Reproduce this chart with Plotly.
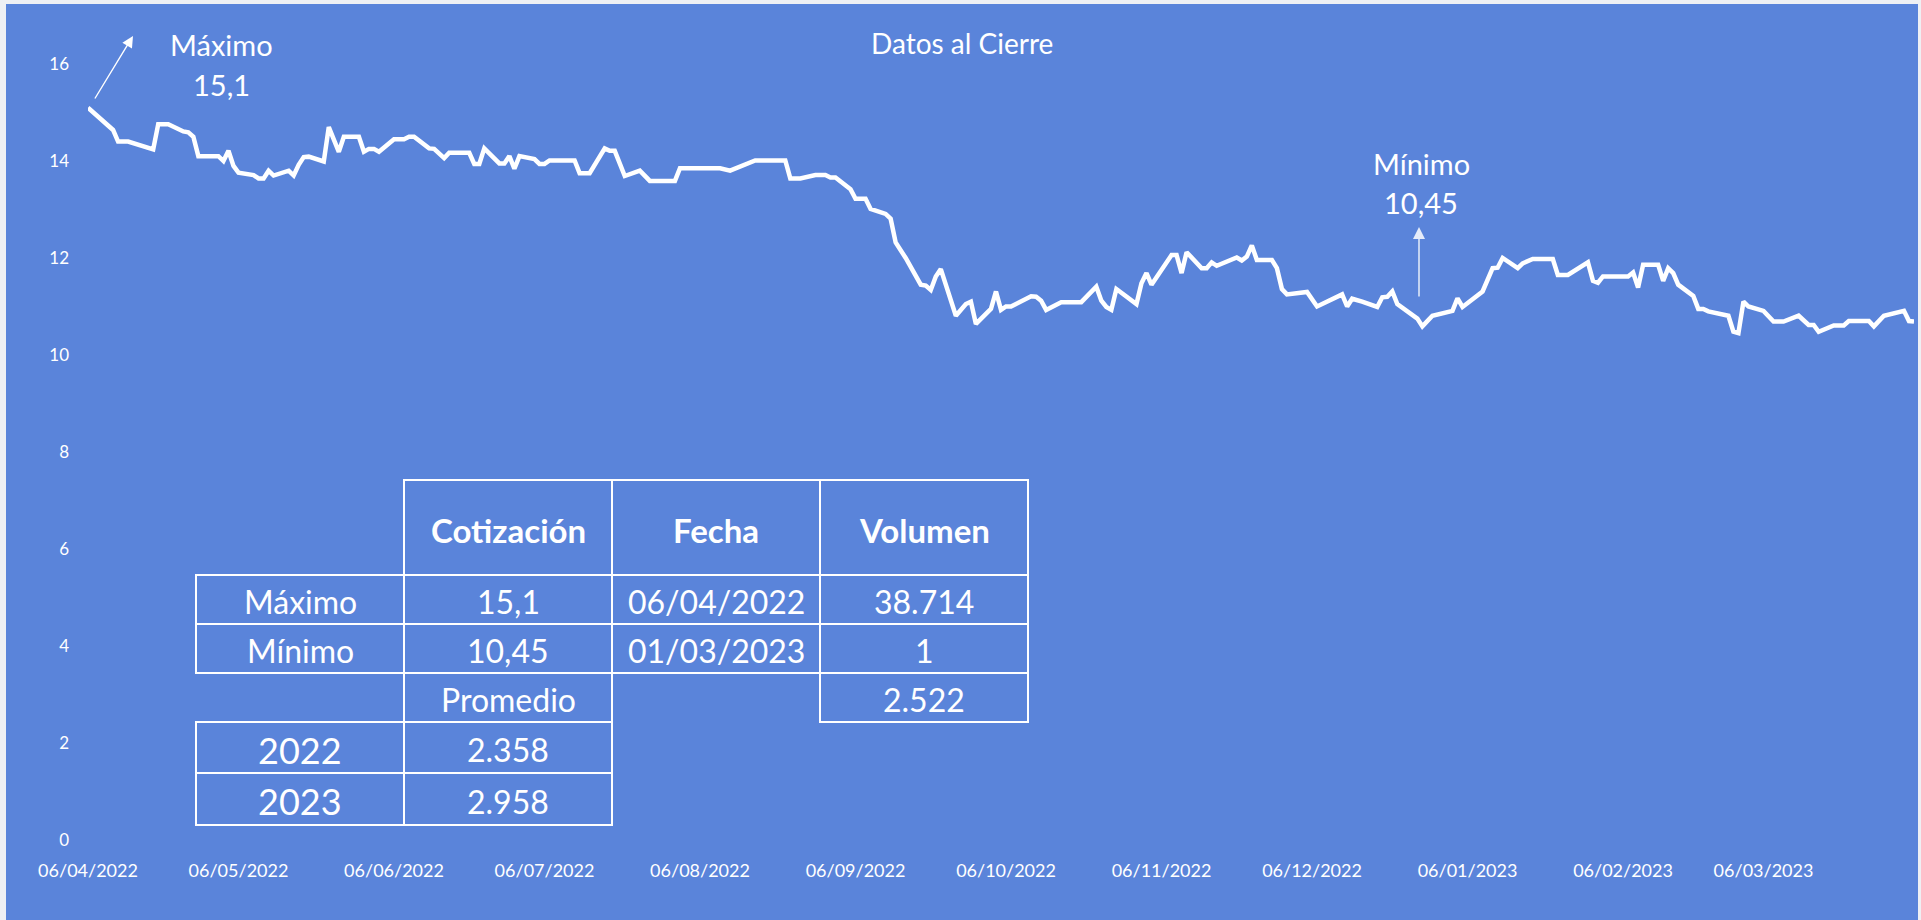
import plotly.graph_objects as go

# ---------------- data ----------------
dates = [
    "2022-04-06", "2022-04-11", "2022-04-12", "2022-04-14", "2022-04-19", "2022-04-20", "2022-04-22",
    "2022-04-25", "2022-04-26", "2022-04-27", "2022-04-28", "2022-05-02", "2022-05-03", "2022-05-04",
    "2022-05-05", "2022-05-06", "2022-05-09", "2022-05-10", "2022-05-11", "2022-05-12", "2022-05-13",
    "2022-05-16", "2022-05-17", "2022-05-18", "2022-05-19", "2022-05-20", "2022-05-23", "2022-05-24",
    "2022-05-26", "2022-05-27", "2022-05-30", "2022-05-31", "2022-06-01", "2022-06-02", "2022-06-03",
    "2022-06-06", "2022-06-08", "2022-06-09", "2022-06-10", "2022-06-13", "2022-06-14", "2022-06-16",
    "2022-06-17", "2022-06-21", "2022-06-22", "2022-06-23", "2022-06-24", "2022-06-27", "2022-06-28",
    "2022-06-29", "2022-06-30", "2022-07-01", "2022-07-04", "2022-07-05", "2022-07-06", "2022-07-07",
    "2022-07-12", "2022-07-13", "2022-07-15", "2022-07-18", "2022-07-19", "2022-07-20", "2022-07-22",
    "2022-07-25", "2022-07-27", "2022-08-01", "2022-08-02", "2022-08-10", "2022-08-12", "2022-08-17",
    "2022-08-23", "2022-08-24", "2022-08-26", "2022-08-29", "2022-08-31", "2022-09-01", "2022-09-02",
    "2022-09-05", "2022-09-06", "2022-09-08", "2022-09-09", "2022-09-12", "2022-09-13", "2022-09-14",
    "2022-09-16", "2022-09-19", "2022-09-20", "2022-09-21", "2022-09-22", "2022-09-23", "2022-09-26",
    "2022-09-28", "2022-09-29", "2022-09-30", "2022-10-03", "2022-10-04", "2022-10-05", "2022-10-06",
    "2022-10-07", "2022-10-11", "2022-10-12", "2022-10-13", "2022-10-14", "2022-10-17", "2022-10-21",
    "2022-10-24", "2022-10-25", "2022-10-26", "2022-10-27", "2022-10-28", "2022-11-01", "2022-11-02",
    "2022-11-03", "2022-11-04", "2022-11-08", "2022-11-09", "2022-11-10", "2022-11-11", "2022-11-14",
    "2022-11-15", "2022-11-16", "2022-11-17", "2022-11-21", "2022-11-22", "2022-11-23", "2022-11-24",
    "2022-11-25", "2022-11-28", "2022-11-29", "2022-11-30", "2022-12-01", "2022-12-05", "2022-12-07",
    "2022-12-08", "2022-12-12", "2022-12-13", "2022-12-14", "2022-12-16", "2022-12-19", "2022-12-20",
    "2022-12-21", "2022-12-22", "2022-12-23", "2022-12-27", "2022-12-28", "2022-12-30", "2023-01-02",
    "2023-01-03", "2023-01-04", "2023-01-05", "2023-01-09", "2023-01-11", "2023-01-12", "2023-01-13",
    "2023-01-16", "2023-01-17", "2023-01-19", "2023-01-23", "2023-01-24", "2023-01-26", "2023-01-30",
    "2023-01-31", "2023-02-01", "2023-02-02", "2023-02-07", "2023-02-08", "2023-02-09", "2023-02-10",
    "2023-02-13", "2023-02-14", "2023-02-15", "2023-02-16", "2023-02-17", "2023-02-20", "2023-02-21",
    "2023-02-22", "2023-02-23", "2023-02-27", "2023-02-28", "2023-03-01", "2023-03-02", "2023-03-03",
    "2023-03-06", "2023-03-08", "2023-03-10", "2023-03-13", "2023-03-15", "2023-03-16", "2023-03-17",
    "2023-03-20", "2023-03-22", "2023-03-23", "2023-03-27", "2023-03-28", "2023-03-30", "2023-04-03",
    "2023-04-04", "2023-04-05",
]
closes = [
    15.10, 14.64, 14.40, 14.40, 14.24, 14.76, 14.76,
    14.61, 14.59, 14.50, 14.10, 14.10, 14.00, 14.21,
    13.90, 13.76, 13.71, 13.64, 13.64, 13.80, 13.70,
    13.80, 13.70, 13.92, 14.08, 14.09, 13.99, 14.70,
    14.19, 14.50, 14.50, 14.19, 14.25, 14.25, 14.19,
    14.45, 14.45, 14.50, 14.50, 14.26, 14.25, 14.06,
    14.17, 14.17, 13.94, 13.94, 14.26, 13.95, 13.95,
    14.10, 13.84, 14.10, 14.04, 13.94, 13.94, 14.01,
    14.01, 13.75, 13.75, 14.26, 14.21, 14.21, 13.69,
    13.80, 13.59, 13.59, 13.85, 13.85, 13.80, 14.01,
    14.01, 13.64, 13.64, 13.71, 13.71, 13.66, 13.66,
    13.42, 13.22, 13.22, 13.01, 12.91, 12.81, 12.32,
    12.00, 11.45, 11.43, 11.34, 11.62, 11.77, 10.81,
    11.05, 11.10, 10.64, 10.95, 11.31, 10.93, 11.00,
    11.00, 11.21, 11.20, 11.12, 10.93, 11.09, 11.09,
    11.41, 11.12, 10.99, 10.93, 11.36, 11.05, 11.48,
    11.69, 11.45, 12.06, 12.06, 11.69, 12.12, 11.79,
    11.79, 11.91, 11.84, 12.01, 11.95, 12.03, 12.26,
    11.96, 11.96, 11.79, 11.36, 11.25, 11.30, 11.00,
    11.05, 11.25, 11.00, 11.16, 11.10, 10.99, 11.19,
    11.20, 11.31, 11.05, 10.75, 10.59, 10.81, 10.90,
    10.91, 11.17, 10.99, 11.31, 11.79, 11.80, 12.00,
    11.79, 11.89, 11.98, 11.98, 11.65, 11.65, 11.91,
    11.53, 11.49, 11.62, 11.62, 11.70, 11.39, 11.86,
    11.86, 11.53, 11.79, 11.69, 11.45, 11.22, 10.95,
    10.95, 10.90, 10.81, 10.48, 10.45, 11.10, 11.00,
    10.91, 10.69, 10.69, 10.81, 10.62, 10.62, 10.48,
    10.61, 10.61, 10.70, 10.70, 10.59, 10.81, 10.91,
    10.70, 10.69,
]

x_tick_dates = [
    "2022-04-06", "2022-05-06", "2022-06-06", "2022-07-06", "2022-08-06", "2022-09-06",
    "2022-10-06", "2022-11-06", "2022-12-06", "2023-01-06", "2023-02-06", "2023-03-06",
]
x_range = ["2022-04-06", "2023-04-05"]
y_range = [0, 16]

title_text = "Datos al Cierre"
max_label = ["Máximo", "15,1"]
min_label = ["Mínimo", "10,45"]

table_header = ["", "Cotización", "Fecha", "Volumen"]
table_row_max = ["Máximo", "15,1", "06/04/2022", "38.714"]
table_row_min = ["Mínimo", "10,45", "01/03/2023", "1"]
table_row_prom = ["", "Promedio", "", "2.522"]
table_years = ["2022", "2023"]
table_year_vals = ["2.358", "2.958"]

# ---------------- layout constants ----------------
W, H = 1921, 920
PL, PR, PT, PB = 88, 1914, 64, 840
BLUE = "#5A84DA"
FONT = "Lato"


def px_x(px):
    return (px - PL) / (PR - PL)


def px_y(py):
    return (PB - py) / (PB - PT)


fig = go.Figure()
fig.add_trace(go.Scatter(
    x=dates, y=closes, mode="lines",
    line=dict(color="white", width=4.5),
    hoverinfo="x+y", showlegend=False,
))

shapes = []
annotations = []

# blue chart area with thin light border on the page edge
shapes.append(dict(type="rect", xref="paper", yref="paper", layer="below",
                   x0=px_x(6), x1=px_x(1918), y0=px_y(924), y1=px_y(4),
                   fillcolor=BLUE, line=dict(width=0)))

# title
annotations.append(dict(text=title_text, xref="paper", yref="paper",
                        x=px_x(962), y=px_y(43), showarrow=False,
                        xanchor="center", yanchor="middle",
                        font=dict(family=FONT, size=28, color="white")))

# Máximo label + arrow
annotations.append(dict(text=max_label[0], xref="paper", yref="paper", x=px_x(221), y=px_y(44),
                        showarrow=False, xanchor="center", yanchor="middle",
                        font=dict(family=FONT, size=29, color="white")))
annotations.append(dict(text=max_label[1], xref="paper", yref="paper", x=px_x(221), y=px_y(84),
                        showarrow=False, xanchor="center", yanchor="middle",
                        font=dict(family=FONT, size=29, color="white")))
annotations.append(dict(text="", xref="paper", yref="paper", x=px_x(133), y=px_y(36),
                        ax=-39, ay=64, showarrow=True, arrowhead=2, arrowsize=1.6,
                        arrowwidth=1.4, arrowcolor="white"))

# Mínimo label + arrow
annotations.append(dict(text=min_label[0], xref="paper", yref="paper", x=px_x(1421), y=px_y(163),
                        showarrow=False, xanchor="center", yanchor="middle",
                        font=dict(family=FONT, size=29, color="white")))
annotations.append(dict(text=min_label[1], xref="paper", yref="paper", x=px_x(1421), y=px_y(202),
                        showarrow=False, xanchor="center", yanchor="middle",
                        font=dict(family=FONT, size=29, color="white")))
annotations.append(dict(text="", xref="paper", yref="paper", x=px_x(1419), y=px_y(227),
                        ax=0, ay=71, showarrow=True, arrowhead=2, arrowsize=1.6,
                        arrowwidth=1.5, arrowcolor="rgba(255,255,255,0.85)"))

# ---------------- table ----------------
col_edges = [196, 404, 612, 820, 1028]
row_edges = [480, 575, 624, 673, 722, 773, 825]

table_rows = [
    (table_header, [1, 2, 3], 33, "bold"),
    (table_row_max, [0, 1, 2, 3], 32, "normal"),
    (table_row_min, [0, 1, 2, 3], 32, "normal"),
    (table_row_prom, [1, 3], 32, "normal"),
    ([table_years[0], table_year_vals[0], "", ""], [0, 1], 32, "normal"),
    ([table_years[1], table_year_vals[1], "", ""], [0, 1], 32, "normal"),
]

for r, (cells, bordered, fsize, weight) in enumerate(table_rows):
    y0, y1 = row_edges[r], row_edges[r + 1]
    for c in bordered:
        x0, x1 = col_edges[c], col_edges[c + 1]
        shapes.append(dict(type="rect", xref="paper", yref="paper",
                           x0=px_x(x0), x1=px_x(x1), y0=px_y(y1), y1=px_y(y0),
                           line=dict(color="white", width=2), fillcolor="rgba(0,0,0,0)"))
    for c, txt in enumerate(cells):
        if not txt:
            continue
        size = fsize
        if r >= 4 and c == 0:
            size = 36
        annotations.append(dict(text=txt, xref="paper", yref="paper",
                                x=px_x((col_edges[c] + col_edges[c + 1]) / 2),
                                y=px_y((y0 + y1) / 2 + 2),
                                showarrow=False, xanchor="center", yanchor="middle",
                                font=dict(family=FONT, size=size, color="white", weight=weight)))

fig.update_layout(
    width=W, height=H,
    margin=dict(l=PL, r=W - PR, t=PT, b=H - PB, pad=0),
    paper_bgcolor="#EEF0F4",
    plot_bgcolor="rgba(0,0,0,0)",
    shapes=shapes,
    annotations=annotations,
    showlegend=False,
    xaxis=dict(type="date", range=x_range, tickvals=x_tick_dates, tickformat="%d/%m/%Y",
               showgrid=False, zeroline=False, showline=False, ticks="",
               ticklabelstandoff=18,
               tickfont=dict(family=FONT, size=18, color="white")),
    yaxis=dict(range=y_range, dtick=2, showgrid=False, zeroline=False, showline=False,
               ticks="", ticklabelstandoff=18,
               tickfont=dict(family=FONT, size=17, color="white")),
)

fig.write_html("out.html", config={"displayModeBar": False},
               post_script="document.body.style.margin='0';document.body.style.overflow='hidden';")
